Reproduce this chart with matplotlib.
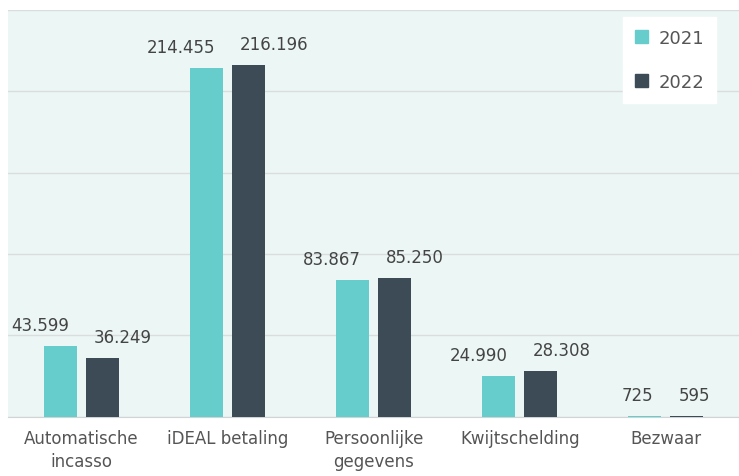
import numpy as np
import matplotlib
matplotlib.use("Agg")
from matplotlib import pyplot as plt
from matplotlib.patches import Patch

categories = ["Automatische\nincasso", "iDEAL betaling", "Persoonlijke\ngegevens", "Kwijtschelding", "Bezwaar"]
vals_2021 = [43599, 214455, 83867, 24990, 725]
vals_2022 = [36249, 216196, 85250, 28308, 595]
labels_2021 = ["43.599", "214.455", "83.867", "24.990", "725"]
labels_2022 = ["36.249", "216.196", "85.250", "28.308", "595"]

c21 = "#66cdcc"
c22 = "#3d4b56"
bg = "#ecf7f5"

fig = plt.figure(figsize=(7.39, 4.77), dpi=100)
ax = fig.add_axes([0.011, 0.124, 0.989, 0.853])
ax.set_facecolor(bg)

x = np.arange(len(categories))
w = 0.226
off = 0.144
b1 = ax.bar(x - off, vals_2021, w, color=c21, zorder=3)
b2 = ax.bar(x + off, vals_2022, w, color=c22, zorder=3)

# px -> points at dpi 100
px = 0.72
for rect, lab in zip(b1, labels_2021):
    ax.annotate(lab, (rect.get_x() + rect.get_width(), rect.get_height()),
                xytext=(-8 * px, 12 * px), textcoords="offset points",
                ha="right", va="bottom", fontsize=12, color="#444444")
for rect, lab in zip(b2, labels_2022):
    ax.annotate(lab, (rect.get_x(), rect.get_height()),
                xytext=(8 * px, 12 * px), textcoords="offset points",
                ha="left", va="bottom", fontsize=12, color="#444444")

ax.set_xlim(-0.5, 4.5)
ax.set_ylim(0, 250000)
ax.set_yticks(np.arange(0, 250001, 50000))
ax.yaxis.grid(True, color="#d9dddd", linewidth=1, zorder=0)
ax.tick_params(axis="y", left=False, labelleft=False)
ax.set_xticks(x)
ax.set_xticklabels(categories, fontsize=12, color="#555555", linespacing=1.3)
ax.tick_params(axis="x", length=0, pad=9)
for s in ["left", "right", "top"]:
    ax.spines[s].set_visible(False)
ax.spines["bottom"].set_color("#d0d4d4")

handles = [Patch(color=c21, label="2021"), Patch(color=c22, label="2022")]
leg = ax.legend(handles=handles, loc="upper right", bbox_to_anchor=(0.9685, 0.983),
                frameon=True, fancybox=False, fontsize=13, labelspacing=1.45,
                handlelength=0.7, handleheight=0.7, handletextpad=0.6,
                borderpad=0.65, borderaxespad=0)
leg.get_frame().set_facecolor("white")
leg.get_frame().set_edgecolor("white")
leg.get_frame().set_alpha(1)
for t in leg.get_texts():
    t.set_color("#555555")

fig.savefig("out.png", dpi=100)
